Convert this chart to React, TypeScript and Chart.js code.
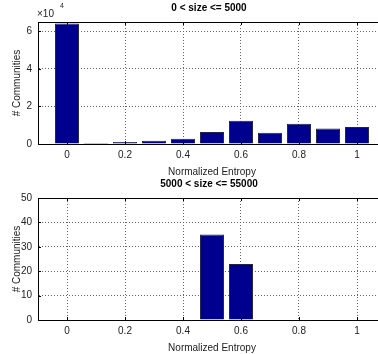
import React, { useEffect, useRef } from "react";
import { Chart, registerables } from "chart.js";

Chart.register(...registerables);

const binCenters = [0, 0.1, 0.2, 0.3, 0.4, 0.5, 0.6, 0.7, 0.8, 0.9, 1.0];
const smallCounts = [64200, 500, 1000, 1700, 2800, 6400, 12400, 6000, 10800, 8200, 9000];
const largeBins = [0.5, 0.6];
const largeCounts = [35, 23];
const xTickValues = [0, 0.2, 0.4, 0.6, 0.8, 1];
const xTickLabels = ["0", "0.2", "0.4", "0.6", "0.8", "1"];
const topYTicks = [0, 20000, 40000, 60000];
const topYLabels = ["0", "2", "4", "6"];
const bottomYTicks = [0, 10, 20, 30, 40, 50];
const bottomYLabels = ["0", "10", "20", "30", "40", "50"];
const topTitle = "0 < size <= 5000";
const bottomTitle = "5000 < size <= 55000";
const xTitle = "Normalized Entropy";
const yTitle = "# Communities";

const FONT = "'Liberation Sans', Arial, Helvetica, sans-serif";

const framePlugin = {
  id: "frameTitle",
  afterDraw(chart: any, _args: any, opts: any) {
    const { ctx, chartArea, scales } = chart;
    const { left, top, right, bottom } = chartArea;
    ctx.save();
    ctx.strokeStyle = "#000";
    ctx.lineWidth = 1;
    ctx.setLineDash([]);
    ctx.strokeRect(Math.round(left) + 0.5, Math.round(top) + 0.5, Math.round(right - left), Math.round(bottom - top));
    // inward tick marks
    ctx.beginPath();
    for (const v of xTickValues) {
      const px = Math.round(scales.x.getPixelForValue(v)) + 0.5;
      ctx.moveTo(px, bottom);
      ctx.lineTo(px, bottom - 3);
      ctx.moveTo(px, top);
      ctx.lineTo(px, top + 3);
    }
    for (const t of scales.y.ticks) {
      const py = Math.round(scales.y.getPixelForValue(t.value)) + 0.5;
      ctx.moveTo(left, py);
      ctx.lineTo(left + 3, py);
    }
    ctx.stroke();
    ctx.fillStyle = "#000";
    ctx.font = `bold 10px ${FONT}`;
    ctx.textAlign = "center";
    ctx.textBaseline = "middle";
    ctx.fillText(opts.title, (left + right) / 2 - 3, top - 14);
    if (opts.exponent) {
      ctx.fillStyle = "#222";
      ctx.font = `10px ${FONT}`;
      ctx.textAlign = "left";
      ctx.fillText("\u00d710", left - 1, top - 8);
      ctx.font = `7px ${FONT}`;
      ctx.fillText(opts.exponent, left + 22, top - 16);
    }
    ctx.restore();
  },
};

function makeConfig(
  points: { x: number; y: number }[],
  yMax: number,
  yTicks: number[],
  yLabels: string[],
  title: string,
  exponent: string | null,
  padTop: number
): any {
  return {
    type: "bar",
    data: {
      datasets: [
        {
          data: points,
          backgroundColor: "#00008f",
          borderColor: "#222244",
          borderWidth: 1,
          barPercentage: 0.83,
          categoryPercentage: 1,
        },
      ],
    },
    plugins: [framePlugin],
    options: {
      animation: false,
      responsive: false,
      maintainAspectRatio: false,
      layout: { padding: { top: padTop, right: 14, bottom: 0, left: 0 } },
      plugins: {
        legend: { display: false },
        tooltip: { enabled: false },
        frameTitle: { title, exponent },
      },
      scales: {
        x: {
          type: "linear",
          min: -0.1,
          max: 1.1,
          offset: false,
          grid: {
            offset: false,
            color: "#666",
            lineWidth: 1,
            drawTicks: false,
          },
          border: { display: true, color: "#000", dash: [1, 2] },
          afterBuildTicks: (scale: any) => {
            scale.ticks = xTickValues.map((v) => ({ value: v }));
          },
          afterFit: (scale: any) => {
            scale.height = 34;
          },
          ticks: {
            padding: 5,
            color: "#222",
            font: { family: FONT, size: 10 },
            maxRotation: 0,
            autoSkip: false,
            callback: (v: number) => {
              const i = xTickValues.findIndex((t) => Math.abs(t - v) < 1e-9);
              return i >= 0 ? xTickLabels[i] : "";
            },
          },
          title: {
            display: true,
            text: xTitle,
            color: "#222",
            font: { family: FONT, size: 10 },
            padding: { top: 4, bottom: 0 },
          },
        },
        y: {
          type: "linear",
          min: 0,
          max: yMax,
          grid: { color: "#666", lineWidth: 1, drawTicks: false },
          border: { display: true, color: "#000", dash: [1, 2] },
          afterBuildTicks: (scale: any) => {
            scale.ticks = yTicks.map((v) => ({ value: v }));
          },
          afterFit: (scale: any) => {
            scale.width = 38;
          },
          ticks: {
            padding: 6,
            color: "#222",
            font: { family: FONT, size: 10 },
            autoSkip: false,
            callback: (v: number) => {
              const i = yTicks.findIndex((t) => Math.abs(t - v) < 1e-9);
              return i >= 0 ? yLabels[i] : "";
            },
          },
          title: {
            display: true,
            text: yTitle,
            color: "#222",
            font: { family: FONT, size: 10 },
            padding: { top: 11, bottom: 0 },
          },
        },
      },
    },
  };
}

function Panel({ config, top, height }: { config: any; top: number; height: number }) {
  const ref = useRef<HTMLCanvasElement | null>(null);
  useEffect(() => {
    if (!ref.current) return;
    const chart = new Chart(ref.current, config);
    return () => chart.destroy();
  }, [config]);
  return (
    <canvas
      ref={ref}
      width={400}
      height={height}
      style={{ position: "absolute", left: 0, top, width: 400, height }}
    />
  );
}

const topConfig = makeConfig(
  binCenters.map((x, i) => ({ x, y: smallCounts[i] })),
  65000,
  topYTicks,
  topYLabels,
  topTitle,
  "4",
  22
);
const bottomConfig = makeConfig(
  largeBins.map((x, i) => ({ x, y: largeCounts[i] })),
  50,
  bottomYTicks,
  bottomYLabels,
  bottomTitle,
  null,
  21
);

export default function App() {
  return (
    <div
      style={{
        position: "fixed",
        left: 0,
        top: 0,
        width: 378,
        height: 354,
        overflow: "hidden",
        background: "#fff",
      }}
    >
      <Panel config={topConfig} top={0} height={178} />
      <Panel config={bottomConfig} top={177} height={177} />
    </div>
  );
}
